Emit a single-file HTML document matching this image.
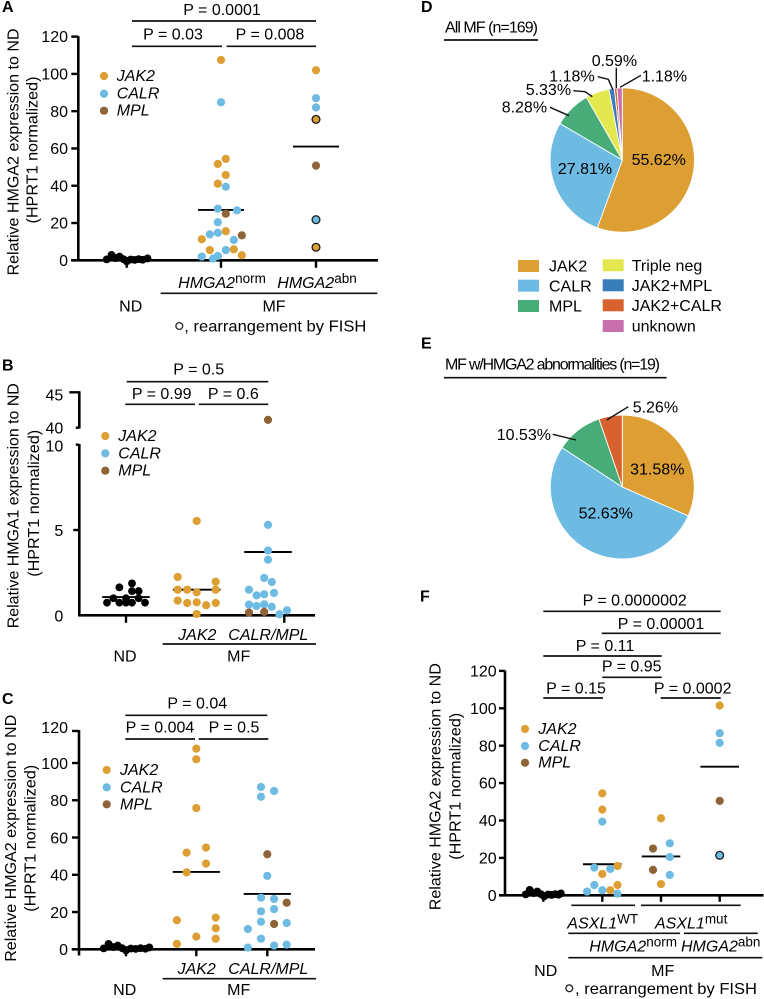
<!DOCTYPE html>
<html lang="en">
<head>
<meta charset="utf-8">
<title>HMGA expression in MF</title>
<style>
html,body{margin:0;padding:0;background:#fff}
svg{display:block}
text{font-family:"Liberation Sans",sans-serif;font-size:16px;fill:#000}
.h{font-weight:bold;font-size:16px;fill:#000}
.i{font-style:italic}
.s{font-style:normal;font-size:13.5px}
.m{text-anchor:middle}
.l{stroke:#111;stroke-width:1.7;fill:none}
.b{stroke:#111;stroke-width:2;fill:none}
</style>
</head>
<body>
<svg id="fig" xmlns="http://www.w3.org/2000/svg" width="764" height="999" viewBox="0 0 764 999">
<rect width="764" height="999" fill="#fff"/>

<!-- Panel A static -->
<g>
<text class="h" x="2" y="12">A</text>
<text class="m" x="222" y="15">P = 0.0001</text>
<line class="l" x1="132" x2="316" y1="21" y2="21"/>
<text class="m" x="173" y="39.5">P = 0.03</text>
<line class="l" x1="132" x2="222" y1="46.3" y2="46.3"/>
<text class="m" x="270" y="39.5">P = 0.008</text>
<line class="l" x1="226.7" x2="316" y1="46.3" y2="46.3"/>
<text class="m" transform="translate(18.5,152) rotate(-90)" textLength="247" lengthAdjust="spacingAndGlyphs">Relative HMGA2 expression to ND</text>
<text class="m" transform="translate(37.7,150) rotate(-90)" textLength="147" lengthAdjust="spacingAndGlyphs">(HPRT1 normalized)</text>
<text class="m i" x="222" y="288">HMGA2<tspan class="s" dy="-5">norm</tspan></text>
<text class="m i" x="317" y="288">HMGA2<tspan class="s" dy="-5">abn</tspan></text>
<line class="l" x1="160.7" x2="377.3" y1="293.3" y2="293.3"/>
<text class="m" x="130.7" y="311.7">ND</text>
<text class="m" x="274" y="311.7">MF</text>
<circle cx="179.3" cy="326" r="3.4" fill="none" stroke="#222" stroke-width="1.3"/>
<text x="184.3" y="331.7" textLength="182" lengthAdjust="spacingAndGlyphs">, rearrangement by FISH</text>
</g>

<!-- Panel B static -->
<g>
<text class="h" x="2" y="370.7">B</text>
<text class="m" x="198.7" y="374.5">P = 0.5</text>
<line class="l" x1="126.7" x2="268.3" y1="381.7" y2="381.7"/>
<text class="m" x="161.7" y="399">P = 0.99</text>
<line class="l" x1="125.3" x2="195" y1="404.3" y2="404.3"/>
<text class="m" x="233.3" y="399">P = 0.6</text>
<line class="l" x1="198.7" x2="268.3" y1="404.3" y2="404.3"/>
<text class="m" transform="translate(18.3,505.7) rotate(-90)" textLength="245" lengthAdjust="spacingAndGlyphs">Relative HMGA1 expression to ND</text>
<text class="m" transform="translate(39,503.3) rotate(-90)" textLength="147" lengthAdjust="spacingAndGlyphs">(HPRT1 normalized)</text>
<text class="m i" x="197.3" y="640">JAK2</text>
<text class="m i" x="268.3" y="640">CALR/MPL</text>
<line class="l" x1="162.7" x2="316" y1="644" y2="644"/>
<text class="m" x="125" y="661.7">ND</text>
<text class="m" x="238.7" y="661.7">MF</text>
</g>

<!-- Panel C static -->
<g>
<text class="h" x="2" y="704">C</text>
<text class="m" x="197.3" y="708.3">P = 0.04</text>
<line class="l" x1="125.3" x2="267.3" y1="715.3" y2="715.3"/>
<text class="m" x="160" y="732.7">P = 0.004</text>
<line class="l" x1="125.3" x2="195" y1="739" y2="739"/>
<text class="m" x="234" y="732.7">P = 0.5</text>
<line class="l" x1="198.7" x2="268.3" y1="739" y2="739"/>
<text class="m" transform="translate(16,838.3) rotate(-90)" textLength="247" lengthAdjust="spacingAndGlyphs">Relative HMGA2 expression to ND</text>
<text class="m" transform="translate(35.7,838.3) rotate(-90)" textLength="147" lengthAdjust="spacingAndGlyphs">(HPRT1 normalized)</text>
<text class="m i" x="196.7" y="974">JAK2</text>
<text class="m i" x="268.3" y="974">CALR/MPL</text>
<line class="l" x1="162.7" x2="316" y1="978.7" y2="978.7"/>
<text class="m" x="124.7" y="995">ND</text>
<text class="m" x="238.7" y="995">MF</text>
</g>

<!-- Panel D static -->
<g>
<text class="h" x="421" y="12">D</text>
<text x="445" y="32.7" textLength="93" lengthAdjust="spacing">All MF (n=169)</text>
<line class="l" x1="444" x2="538" y1="40" y2="40"/>
</g>

<!-- Panel E static -->
<g>
<text class="h" x="421" y="348.3">E</text>
<text x="445" y="369.3" textLength="215" lengthAdjust="spacing">MF w/HMGA2 abnormalities (n=19)</text>
<line class="l" x1="444" x2="666.7" y1="377.7" y2="377.7"/>
</g>

<!-- Panel F static -->
<g>
<text class="h" x="420" y="601.7">F</text>
<text class="m" x="634.7" y="605.7">P = 0.0000002</text>
<line class="l" x1="543.3" x2="720.7" y1="611.3" y2="611.3"/>
<text class="m" x="661" y="629">P = 0.00001</text>
<line class="l" x1="601.7" x2="720.7" y1="633.3" y2="633.3"/>
<text class="m" x="605" y="651">P = 0.11</text>
<line class="l" x1="543.3" x2="661.7" y1="656" y2="656"/>
<text class="m" x="631.7" y="671.7">P = 0.95</text>
<line class="l" x1="602.3" x2="661.7" y1="677.3" y2="677.3"/>
<text class="m" x="576" y="693.3">P = 0.15</text>
<line class="l" x1="543.3" x2="603" y1="698" y2="698"/>
<text class="m" x="692.7" y="693.3">P = 0.0002</text>
<line class="l" x1="660.7" x2="720.7" y1="698" y2="698"/>
<text class="m" transform="translate(440.7,786.7) rotate(-90)" textLength="247" lengthAdjust="spacingAndGlyphs">Relative HMGA2 expression to ND</text>
<text class="m" transform="translate(460.7,786.3) rotate(-90)" textLength="147" lengthAdjust="spacingAndGlyphs">(HPRT1 normalized)</text>
<line class="l" x1="571.3" x2="635" y1="905.3" y2="905.3"/>
<line class="l" x1="641" x2="740.7" y1="905.3" y2="905.3"/>
<text class="i" x="567.3" y="928.3">ASXL1<tspan class="s" dy="-5">WT</tspan></text>
<text class="i" x="655" y="928.3">ASXL1<tspan class="s" dy="-5">mut</tspan></text>
<line class="l" x1="568.3" x2="680" y1="933.3" y2="933.3"/>
<line class="l" x1="684" x2="757.7" y1="933.3" y2="933.3"/>
<text class="i" x="589.3" y="951.7">HMGA2<tspan class="s" dy="-5">norm</tspan></text>
<text class="i" x="681" y="951.7">HMGA2<tspan class="s" dy="-5">abn</tspan></text>
<line class="l" x1="568.3" x2="762.3" y1="957.7" y2="957.7"/>
<text class="m" x="545.7" y="976">ND</text>
<text class="m" x="662.7" y="976">MF</text>
<circle cx="569.3" cy="988.3" r="3.4" fill="none" stroke="#222" stroke-width="1.3"/>
<text x="575" y="994" textLength="182" lengthAdjust="spacingAndGlyphs">, rearrangement by FISH</text>
</g>
<g id="marks"></g>
</svg>

<script>
/* ---------- Panel A data ---------- */
const aTickValues = [0, 20, 40, 60, 80, 100, 120];
const aTickLabels = ['0', '20', '40', '60', '80', '100', '120'];
const aMeans = [1.2, 27, 61];
const aNdSlot = [-2.5, -1.9, -1.4, -0.9, -0.4, 0, 0.5, 1, 1.5, 2, 2.6];
const aNdVal = [0.5, 2.9, 1.2, 2, 0.6, -0.6, 0.4, 0.2, 0.6, 0.3, 1];
const aJak2Cat = [1, 1, 1, 1, 1, 1, 1, 1, 1, 1, 2];
const aJak2Slot = [0, 0.6, -0.4, 0.6, -0.4, 0.6, -2.4, -1.4, 1.6, 2.6, 0];
const aJak2Val = [107.5, 54.4, 51.7, 45.8, 41.1, 15.6, 11.3, 5.5, 5.9, 2.7, 102];
const aCalrCat = [1, 1, 1, 1, 1, 1, 1, 1, 1, 1, 1, 1, 2, 2];
const aCalrSlot = [0, 0.6, -0.4, 2, -0.4, -1.4, -0.4, 1.6, 0.6, -2.4, -1, -0.4, 0, 0];
const aCalrVal = [84.8, 39.5, 27.7, 26.8, 20.4, 13.9, 14.8, 10.9, 5.5, 2, 0.9, 2.3, 87, 82];
const aMplCat = [1, 1, 2];
const aMplSlot = [0.6, 2.6, 0];
const aMplVal = [25, 13.4, 50.8];
const aRingJak2Cat = [2, 2];
const aRingJak2Val = [75.6, 7];
const aRingCalrCat = [2];
const aRingCalrVal = [21.8];

/* ---------- Panel B data ---------- */
const bTickValues = [0, 5, 10, 40, 45];
const bTickLabels = ['0', '5', '10', '40', '45'];
const bMeans = [1.07, 1.5, 3.71];
const bNdSlot = [-2, -1.33, -0.7, -0.7, 0, 0, 0.63, 0.63, 0.63, 1.33, 1.33, 2];
const bNdVal = [0.74, 1, 0.74, 1.64, 0.74, 1, 1.87, 1.42, 0.74, 1.42, 1, 0.74];
const bJak2Cat = [1, 1, 1, 1, 1, 1, 1, 1, 1, 1, 1, 1, 1];
const bJak2Slot = [0, -2, 2, -2, -1, 0, 2, -2, -1, 0, 1, 2, 0];
const bJak2Val = [5.53, 2.25, 1.97, 1.5, 1.5, 1.35, 1.5, 0.86, 0.72, 0.76, 0.59, 0.72, 0.08];
const bCalrCat = [2, 2, 2, 2, 2, 2, 2, 2, 2, 2, 2, 2, 2, 2, 2];
const bCalrSlot = [0, 0, 0, -0.4, 0.4, -2, -1.2, -0.4, 0.63, -2, -1.2, -0.4, 0.4, 1.2, 2];
const bCalrVal = [5.3, 3.8, 3.26, 2.19, 1.95, 1.5, 1.17, 1.23, 1.31, 0.63, 0.55, 0.64, 0.5, 0.06, 0.29];
const bMplCat = [2, 2, 2];
const bMplSlot = [0, -2, -0.4];
const bMplVal = [41.1, 0.16, 0.2];

/* ---------- Panel C data ---------- */
const cTickValues = [0, 20, 40, 60, 80, 100, 120];
const cTickLabels = ['0', '20', '40', '60', '80', '100', '120'];
const cMeans = [1.2, 41.5, 29.7];
const cNdSlot = [-2.3, -1.8, -1.3, -0.85, -0.4, 0, 0.5, 1, 1.5, 2, 2.4];
const cNdVal = [0.5, 2.9, 1.2, 2, 0.6, -0.6, 0.4, 0.2, 0.6, 0.3, 1];
const cJak2Cat = [1, 1, 1, 1, 1, 1, 1, 1, 1, 1, 1, 1, 1];
const cJak2Slot = [0, 0, 0, 1, -1, 1, -1, -2, 2, 2, 0, 2, -2];
const cJak2Val = [109, 102.3, 75.8, 54.6, 51.9, 46, 41.3, 15.6, 17, 11.3, 6.8, 5.7, 2.9];
const cCalrCat = [2, 2, 2, 2, 2, 2, 2, 2, 2, 2, 2, 2, 2, 2, 2];
const cCalrSlot = [-0.65, -0.65, 0.7, 0, -0.65, 0.7, -0.65, 0.7, -0.65, -2, 2, -0.65, -2, 0.7, 2];
const cCalrVal = [87.1, 81.9, 85, 39.4, 27.7, 27, 20.4, 21.6, 14.8, 10.9, 14.1, 5.7, 0.9, 2, 2.5];
const cMplCat = [2, 2, 2];
const cMplSlot = [0, 2, 0.7];
const cMplVal = [51, 25, 13.6];

/* ---------- Panel F data ---------- */
const fTickValues = [0, 20, 40, 60, 80, 100, 120];
const fTickLabels = ['0', '20', '40', '60', '80', '100', '120'];
const fMeans = [1.2, 16.6, 20.8, 68.8];
const fNdSlot = [-2.2, -1.7, -1.2, -0.75, -0.3, 0.1, 0.6, 1.05, 1.5, 1.9, 2.2];
const fNdVal = [0.5, 2.9, 1.2, 2, 0.6, -0.6, 0.4, 0.2, 0.6, 0.3, 1];
const fJak2Cat = [1, 1, 1, 1, 1, 1, 2, 2, 3];
const fJak2Slot = [0, 0, 1.9, 0, 1.9, 1, 0, 0, 0];
const fJak2Val = [54.5, 45.8, 15.7, 11.4, 5.5, 2.7, 41.2, 6, 101.5];
const fCalrCat = [1, 1, 1, 1, 1, 1, 1, 2, 2, 2, 3, 3];
const fCalrSlot = [0, -1, 1, -1, 0, -1.9, 1.9, 1.1, 1.1, 1.1, 0, 0];
const fCalrVal = [39.4, 14.8, 14.1, 5.5, 2.7, 2, 0.9, 27.8, 20.5, 10.9, 86.7, 81.5];
const fMplCat = [2, 2, 3];
const fMplSlot = [-1, -1, 0];
const fMplVal = [25, 13.6, 50.5];
const fRingCalrCat = [3];
const fRingCalrVal = [21.4];

/* ---------- Pie data ---------- */
const dLabels = ['JAK2', 'CALR', 'MPL', 'Triple neg', 'JAK2+MPL', 'JAK2+CALR', 'unknown'];
const dValues = [55.62, 27.81, 8.28, 5.33, 1.18, 0.59, 1.18];
const eLabels = ['JAK2', 'CALR', 'MPL', 'JAK2+CALR'];
const eValues = [31.58, 52.63, 10.53, 5.26];

/* ---------- Rendering ---------- */
const genotypeColor = {
  'JAK2': '#DD9F33', 'CALR': '#6DBBE3', 'MPL': '#8F6338', 'ND': '#000',
  'pie-MPL': '#48AC78', 'Triple neg': '#E3E84E', 'JAK2+MPL': '#3A7DBB',
  'JAK2+CALR': '#D8622F', 'unknown': '#C870AE'
};
const marks = document.getElementById('marks');
const NS = 'http://www.w3.org/2000/svg';
function make(tag, attrs, text) {
  const el = document.createElementNS(NS, tag);
  for (const k in attrs) el.setAttribute(k, attrs[k]);
  if (text !== undefined) el.textContent = text;
  marks.appendChild(el);
  return el;
}
function seg(name, x1, y1, x2, y2, w) {
  const el = make('line', {x1: x1, y1: y1, x2: x2, y2: y2, stroke: '#000', 'stroke-width': w || 2.4});
  
  
  return el;
}
function dot(name, x, y, fill, ring) {
  const el = make('circle', {cx: x, cy: y, r: ring ? 3.9 : (fill === '#000' ? 3.9 : 4.1), fill: fill});
  if (ring) { el.setAttribute('stroke', '#1a1a1a'); el.setAttribute('stroke-width', 1.3); }
  
  
  return el;
}
function label(name, x, y, str, anchor, cls) {
  const el = make('text', {x: x, y: y});
  el.textContent = str;
  if (anchor) el.setAttribute('text-anchor', anchor);
  if (cls) el.setAttribute('class', cls);
  
  
  return el;
}
function series(id, name, color, cats, slots, vals, P, ring) {
  for (let i = 0; i < vals.length; i++) {
    const x = P.catX[cats ? cats[i] : 0] + (slots ? slots[i] : 0) * P.slot;
    dot(id + '-' + name + '-point-' + i, x, P.y(vals[i]), color, ring);
  }
}
function panel(P) {
  const id = P.id;
  P.axisSegs.forEach(function (s, i) { seg(id + '-y-axis-line-' + i, P.axisX, s[0], P.axisX, s[1], 2.6); });
  seg(id + '-x-axis-line', P.xFrom, P.y(0), P.xTo, P.y(0), 2.6);
  P.ticks.forEach(function (v, i) {
    const y = P.y(v);
    const len = P.tickLen ? P.tickLen(v) : 7;
    seg(id + '-y-tick-' + P.tickLabels[i], P.axisX - len, y, P.axisX, y, 2.4);
    const dy = P.labelDy ? P.labelDy(v) : 5.6;
    label(id + '-y-tick-label-' + P.tickLabels[i], P.labelX, y + dy, P.tickLabels[i], 'end');
  });
  P.xTicks.forEach(function (x, i) { seg(id + '-x-tick-' + i, x, P.y(0), x, P.y(0) + P.xTickLen, 2.4); });
  P.means.forEach(function (m, i) {
    seg(id + '-mean-line-' + i, P.catX[i] - P.meanHalf, P.y(m), P.catX[i] + P.meanHalf, P.y(m), 1.9);
  });
  P.legendY.forEach(function (ly, i) {
    const names = ['JAK2', 'CALR', 'MPL'];
    dot(id + '-legend-dot-' + names[i], P.legendDotX, ly, genotypeColor[names[i]]);
    label(id + '-legend-label-' + names[i], P.legendTextX, ly + 5, names[i], null, 'i');
  });
}
const panelA = {
  id: 'a', catX: [126.7, 221, 316], slot: 8, y: function (v) { return 260.3 - v * 1.864; },
  axisX: 78.3, axisSegs: [[36.2, 261]], xFrom: 71, xTo: 378, ticks: aTickValues, tickLabels: aTickLabels,
  labelX: 68, xTicks: [126.7, 221, 316], xTickLen: 7.5, means: aMeans, meanHalf: 23,
  legendY: [76, 93.7, 110.7], legendDotX: 104, legendTextX: 116.7
};
const panelB = {
  id: 'b', catX: [126, 196.7, 268], slot: 9.5,
  y: function (v) { return v <= 10 ? 615.3 - v * 17.06 : 427.7 - (v - 40) * 7.08; },
  axisX: 79.3, axisSegs: [[391.3, 428.5], [444, 616]], xFrom: 78.3, xTo: 315, ticks: bTickValues, tickLabels: bTickLabels,
  tickLen: function (v) { return v === 0 ? 0 : (v === 45 ? 10 : (v === 5 ? 6 : 3.5)); },
  labelDy: function (v) { return v === 10 ? 7 : (v === 45 ? 8 : 6); },
  labelX: 63.3, xTicks: [126, 284.3], xTickLen: 7.5, means: bMeans, meanHalf: 23.8,
  legendY: [436, 453.3, 470.7], legendDotX: 105.3, legendTextX: 118.3
};
const panelC = {
  id: 'c', catX: [126, 196.3, 267.3], slot: 9.7,
  y: function (v) { return v <= 100 ? 949.3 - v * 1.863 : 763 - (v - 100) * 1.6; },
  axisX: 79, axisSegs: [[730, 955.5]], xFrom: 71.7, xTo: 315, ticks: cTickValues, tickLabels: cTickLabels,
  labelDy: function (v) { return v === 120 ? 2 : 5.8; },
  labelX: 68, xTicks: [126, 196.3, 267.3], xTickLen: 7, means: cMeans, meanHalf: 23.6,
  legendY: [770, 787.3, 804.3], legendDotX: 106.7, legendTextX: 120
};
const panelF = {
  id: 'f', catX: [543.3, 602.3, 661, 719.7], slot: 8, y: function (v) { return 895.3 - v * 1.87; },
  axisX: 505, axisSegs: [[670.5, 896]], xFrom: 499, xTo: 763.5, ticks: fTickValues, tickLabels: fTickLabels,
  tickLen: function () { return 6; },
  labelX: 496.7, xTicks: [543.3, 602.3, 661, 719.7], xTickLen: 6.5, means: fMeans, meanHalf: 19.3,
  legendY: [729, 746, 762.7], legendDotX: 525, legendTextX: 538.3
};
panel(panelA);
series('a', 'nd', genotypeColor.ND, null, aNdSlot, aNdVal, panelA);
series('a', 'jak2', genotypeColor.JAK2, aJak2Cat, aJak2Slot, aJak2Val, panelA);
series('a', 'calr', genotypeColor.CALR, aCalrCat, aCalrSlot, aCalrVal, panelA);
series('a', 'mpl', genotypeColor.MPL, aMplCat, aMplSlot, aMplVal, panelA);
series('a', 'ringed-jak2', genotypeColor.JAK2, aRingJak2Cat, null, aRingJak2Val, panelA, true);
series('a', 'ringed-calr', genotypeColor.CALR, aRingCalrCat, null, aRingCalrVal, panelA, true);

panel(panelB);
series('b', 'nd', genotypeColor.ND, null, bNdSlot, bNdVal, panelB);
series('b', 'jak2', genotypeColor.JAK2, bJak2Cat, bJak2Slot, bJak2Val, panelB);
series('b', 'calr', genotypeColor.CALR, bCalrCat, bCalrSlot, bCalrVal, panelB);
series('b', 'mpl', genotypeColor.MPL, bMplCat, bMplSlot, bMplVal, panelB);

panel(panelC);
series('c', 'nd', genotypeColor.ND, null, cNdSlot, cNdVal, panelC);
series('c', 'jak2', genotypeColor.JAK2, cJak2Cat, cJak2Slot, cJak2Val, panelC);
series('c', 'calr', genotypeColor.CALR, cCalrCat, cCalrSlot, cCalrVal, panelC);
series('c', 'mpl', genotypeColor.MPL, cMplCat, cMplSlot, cMplVal, panelC);

panel(panelF);
series('f', 'nd', genotypeColor.ND, null, fNdSlot, fNdVal, panelF);
series('f', 'jak2', genotypeColor.JAK2, fJak2Cat, fJak2Slot, fJak2Val, panelF);
series('f', 'calr', genotypeColor.CALR, fCalrCat, fCalrSlot, fCalrVal, panelF);
series('f', 'mpl', genotypeColor.MPL, fMplCat, fMplSlot, fMplVal, panelF);
series('f', 'ringed-calr', genotypeColor.CALR, fRingCalrCat, null, fRingCalrVal, panelF, true);

function pieColor(name) { return name === 'MPL' ? genotypeColor['pie-MPL'] : genotypeColor[name]; }
function pie(id, labels, values, cx, cy, r) {
  const total = values.reduce(function (a, b) { return a + b; }, 0);
  let start = 0;
  labels.forEach(function (name, i) {
    const sweep = values[i] / total * Math.PI * 2;
    const a0 = start, a1 = start + sweep;
    const d = 'M' + cx + ' ' + cy + 'L' + (cx + r * Math.sin(a0)) + ' ' + (cy - r * Math.cos(a0)) +
      'A' + r + ' ' + r + ' 0 ' + (sweep > Math.PI ? 1 : 0) + ' 1 ' + (cx + r * Math.sin(a1)) + ' ' + (cy - r * Math.cos(a1)) + 'Z';
    const el = make('path', {d: d, fill: pieColor(name), stroke: '#fff', 'stroke-width': 0.9});
    
    
    start = a1;
  });
}
pie('pie-d', dLabels, dValues, 622.3, 160, 72.2);
pie('pie-e', eLabels, eValues, 622.3, 487, 72);

const dLabelAnchors = [[658.7, 165, 'middle'], [585, 174, 'middle'], [501.7, 112.7, 'start'], [525.7, 95, 'start'], [549.3, 81.7, 'start'], [591.7, 66, 'start'], [641.7, 81.7, 'start']];
dValues.forEach(function (v, i) {
  label('pie-d-value-' + i, dLabelAnchors[i][0], dLabelAnchors[i][1], v.toFixed(2) + '%', dLabelAnchors[i][2]);
});
const eLabelAnchors = [[657.3, 474.3, 'middle'], [605.7, 518.3, 'middle'], [496.7, 440, 'start'], [632.7, 412.7, 'start']];
eValues.forEach(function (v, i) {
  label('pie-e-value-' + i, eLabelAnchors[i][0], eLabelAnchors[i][1], v.toFixed(2) + '%', eLabelAnchors[i][2]);
});

const leaderPaths = [
  'M550 107.3L569 115.7', 'M573.3 90.7L585 91.7L592.3 96.7', 'M597.7 76.7L608.3 79.3L612.7 89.3',
  'M616.3 67.7L616.3 88.3', 'M641 75.3L620 87.3', 'M552.7 434.3L576 440', 'M628.3 406.7L606.7 420'
];
leaderPaths.forEach(function (d, i) {
  const el = make('path', {d: d, fill: 'none', stroke: '#111', 'stroke-width': 1.4});
  
  
});

const legendSlots = {
  'JAK2': [518, 260, 549], 'CALR': [518, 279.7, 568.7], 'MPL': [518, 300, 549],
  'Triple neg': [602.7, 259.3, 632], 'JAK2+MPL': [602.7, 279.3, 632], 'JAK2+CALR': [602.7, 299.3, 632], 'unknown': [602.7, 320, 632]
};
dLabels.forEach(function (name) {
  const s = legendSlots[name];
  const sw = make('rect', {x: s[0], y: s[1], width: 21, height: 12, fill: pieColor(name)});
  
  
  const tx = name === 'JAK2' || name === 'CALR' || name === 'MPL' ? 549 : 631.7;
  label('pie-legend-label-' + name.toLowerCase().replace(/[^a-z0-9]+/g, '-'), tx, s[1] + 11.7, name);
});
</script>
</body>
</html>
